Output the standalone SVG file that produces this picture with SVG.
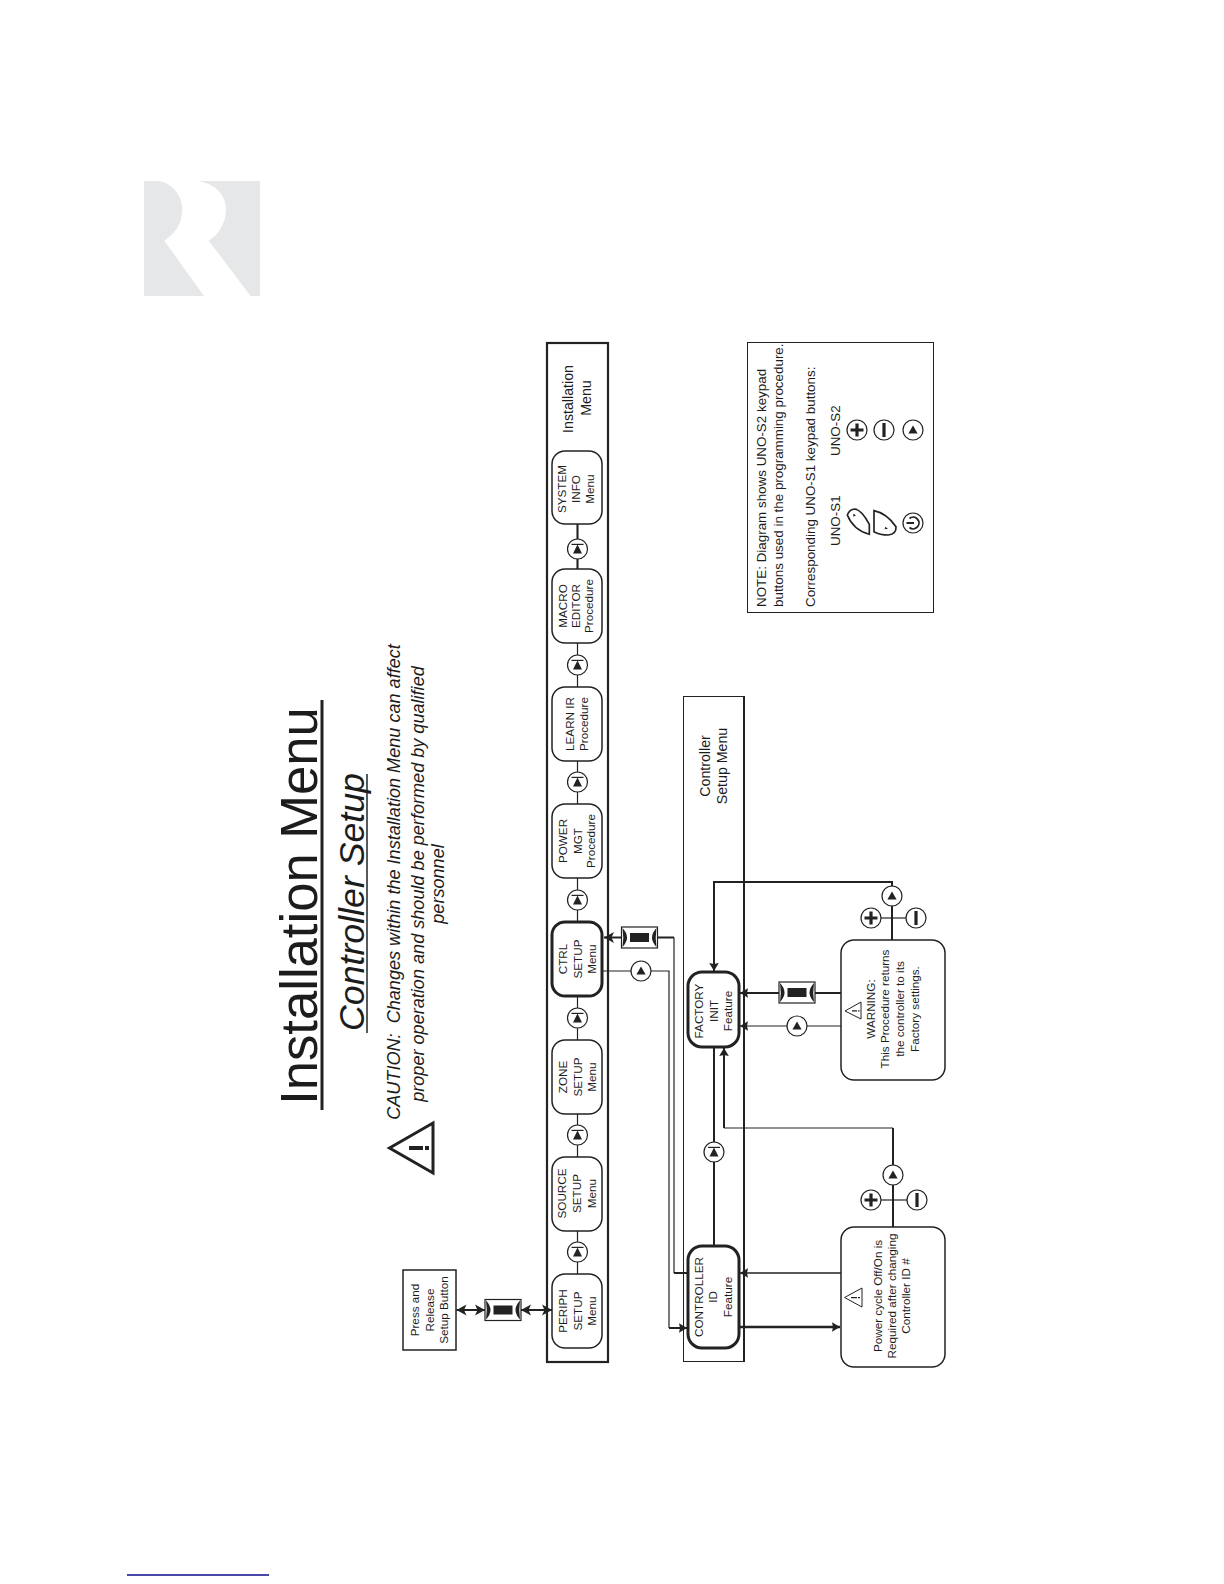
<svg xmlns="http://www.w3.org/2000/svg" width="1224" height="1584" viewBox="0 0 1224 1584">
<style>
text{font-family:"Liberation Sans",Arial,sans-serif;fill:#1c1c1c;text-anchor:middle;white-space:pre}
.n{font-size:11.7px}
.m{font-size:14.2px}
.s{text-anchor:start;font-size:13.4px}
.c{font-size:18.1px;font-style:italic}
.box{fill:#fff;stroke:#222;stroke-width:1.5}
.hv{fill:#fff;stroke:#222;stroke-width:3}
.th{fill:none;stroke:#222;stroke-width:1.2}
.md{fill:none;stroke:#222;stroke-width:2}
.bk{fill:#222;stroke:none}
.bw{fill:#fff;stroke:#222;stroke-width:1.2}
</style>
<defs>
<marker id="ah" markerUnits="userSpaceOnUse" markerWidth="12" markerHeight="12" viewBox="-10 -6 11 12" refX="0" refY="0" orient="auto-start-reverse"><path d="M0,0L-8,-4.800L-7,0L-8,4.800Z" fill="#222"/></marker>
<marker id="ad" markerUnits="userSpaceOnUse" markerWidth="12" markerHeight="12" viewBox="-10 -6 11 12" refX="0" refY="0" orient="auto-start-reverse"><path d="M0,0L-10,-5.500L-7.500,0L-10,5.500Z" fill="#222"/></marker>
<g id="b-next"><circle class="bw" r="10"/><path class="bk" d="M0,-4.500L4.500,4.500L-4.500,4.500Z"/><path class="bk" d="M-6,-5.200H6V-4H-6Z"/></g>
<g id="b-up"><circle class="bw" r="10"/><path class="bk" d="M0,-4.500L4.600,3.500L-4.600,3.500Z"/></g>
<g id="b-plus"><circle class="bw" r="10"/><path class="bk" d="M-1.600,-6.500H1.600V-1.600H6.500V1.600H1.600V6.500H-1.600V1.600H-6.500V-1.600H-1.600Z"/></g>
<g id="b-minus"><circle class="bw" r="10"/><path class="bk" d="M-1.600,-7H1.600V7H-1.600Z"/></g>
<g id="hold"><rect class="bw" x="-18" y="-10.500" width="36" height="21"/><rect class="bk" x="-9.500" y="-4.500" width="19" height="9"/><path class="bk" d="M-17,-9.500Q-8,0-17,9.500Q-15.500,0-17,-9.500Z"/><path class="bk" d="M17,-9.500Q8,0,17,9.500Q15.500,0,17,-9.500Z"/></g>
</defs>
<rect width="1224" height="1584" fill="#fff"/>

<g id="logo">
<rect x="144" y="181" width="116" height="115" fill="#e6e7e8"/>
<path fill="#fff" d="M158.300,181C173,183 182.300,196.700 182.300,209.300C182.300,225 173.300,235 164.300,240.700L204,296L250.700,296L208.700,240.700C218.300,235 226,223.300 226,209.300C226,196.700 216.700,183 196.700,181Z"/>
</g>

<g id="title">
<text transform="translate(317 906) rotate(-90)" style="font-size:52.6px">Installation Menu</text>
<path d="M322,700V1110" stroke="#222" stroke-width="3" fill="none"/>
<text transform="translate(364 902) rotate(-90)" style="font-size:35.7px;font-style:italic">Controller Setup</text>
<path d="M367,774V1033" stroke="#222" stroke-width="1.500" fill="none"/>
</g>

<g id="caution">
<path d="M389.500,1148L433,1123V1173Z" fill="#fff" stroke="#222" stroke-width="3"/>
<path class="bk" d="M409,1146H423V1150H409ZM425,1146H429V1150H425Z"/>
<text class="c" transform="translate(400 882) rotate(-90)">CAUTION:  Changes within the Installation Menu can affect</text>
<text class="c" transform="translate(424 884) rotate(-90)">proper operation and should be performed by qualified</text>
<text class="c" transform="translate(444 884) rotate(-90)">personnel</text>
</g>

<g id="press-setup">
<rect x="403" y="1270" width="53" height="80" fill="#fff" stroke="#222" stroke-width="1.500"/>
<text class="n" transform="translate(419 1310) rotate(-90)">Press and</text>
<text class="n" transform="translate(433.500 1310) rotate(-90)">Release</text>
<text class="n" transform="translate(448 1310) rotate(-90)">Setup Button</text>
</g>

<g id="installation-menu">
<rect x="547" y="343" width="61" height="1019" fill="#fff" stroke="#222" stroke-width="2.200"/>
<text class="m" transform="translate(573 399) rotate(-90)">Installation</text>
<text class="m" transform="translate(591 398) rotate(-90)">Menu</text>
</g>

<g id="controller-setup-menu">
<rect x="683.500" y="696.500" width="60" height="665" fill="#fff" stroke="#222" stroke-width="1"/>
<path d="M744,696V1362" stroke="#222" stroke-width="2" fill="none"/>
<text class="m" transform="translate(710 766) rotate(-90)">Controller</text>
<text class="m" transform="translate(727 766) rotate(-90)">Setup Menu</text>
</g>

<g id="connectors">
<path class="th" d="M577.500,524V1274"/>
<path class="md" d="M577.500,524V569"/>
<path class="md" d="M456.500,1310H485" marker-start="url(#ad)" marker-end="url(#ad)"/>
<path class="md" d="M521,1310H552" marker-start="url(#ad)" marker-end="url(#ad)"/>
<path class="md" d="M604,937.500H674" marker-start="url(#ad)"/>
<path class="th" d="M674,937.500V1273"/>
<path class="md" d="M674,1273H688"/>
<path class="th" d="M603,971H669V1328"/>
<path class="md" d="M669,1328H687" marker-end="url(#ah)"/>
<path class="md" d="M714,1047V1246"/>
<path class="md" d="M724,1128V1048" marker-end="url(#ah)"/>
<path class="th" d="M724,1128H893"/>
<path class="md" d="M893,1128V1227"/>
<path class="th" d="M881,1200H907"/>
<path class="md" d="M892,940V882H714V971" marker-end="url(#ah)"/>
<path class="th" d="M881,918H906"/>
<path class="md" d="M841,993H740" marker-end="url(#ah)"/>
<path class="th" d="M841,1026H740" marker-end="url(#ah)"/>
<path style="fill:none;stroke:#222;stroke-width:1.400" d="M841,1273H740" marker-end="url(#ah)"/>
<path style="fill:none;stroke:#222;stroke-width:2.400" d="M739,1327H840" marker-end="url(#ah)"/>
<use href="#hold" x="503" y="1310"/>
<use href="#hold" x="639.500" y="937.500"/>
<use href="#hold" x="797" y="992.500"/>
<use href="#b-next" x="577.500" y="549"/>
<use href="#b-next" x="577.500" y="665"/>
<use href="#b-next" x="577.500" y="782"/>
<use href="#b-next" x="577.500" y="900"/>
<use href="#b-next" x="577.500" y="1018"/>
<use href="#b-next" x="577.500" y="1135"/>
<use href="#b-next" x="577.500" y="1252"/>
<use href="#b-up" x="641" y="971"/>
<use href="#b-next" x="714" y="1152"/>
<use href="#b-up" x="797" y="1026"/>
<use href="#b-up" x="893" y="1175"/>
<use href="#b-plus" x="871" y="1200"/>
<use href="#b-minus" x="917" y="1200"/>
<use href="#b-up" x="892" y="896"/>
<use href="#b-plus" x="871" y="918"/>
<use href="#b-minus" x="916" y="918"/>
</g>

<g id="system-info"><rect class="box" x="552" y="451" width="50" height="73" rx="13"/>
<text class="n" transform="translate(566 489) rotate(-90)">SYSTEM</text><text class="n" transform="translate(580 489) rotate(-90)">INFO</text><text class="n" transform="translate(594 489) rotate(-90)">Menu</text></g>
<g id="macro-editor"><rect class="box" x="552" y="569" width="50" height="74" rx="13"/>
<text class="n" transform="translate(567 606) rotate(-90)">MACRO</text><text class="n" transform="translate(580 606) rotate(-90)">EDITOR</text><text class="n" transform="translate(593 606) rotate(-90)">Procedure</text></g>
<g id="learn-ir"><rect class="box" x="552" y="687" width="50" height="74" rx="13"/>
<text class="n" transform="translate(574 724) rotate(-90)">LEARN IR</text><text class="n" transform="translate(588 724) rotate(-90)">Procedure</text></g>
<g id="power-mgt"><rect class="box" x="552" y="804" width="50" height="74" rx="13"/>
<text class="n" transform="translate(567 841) rotate(-90)">POWER</text><text class="n" transform="translate(582 841) rotate(-90)">MGT</text><text class="n" transform="translate(595 841) rotate(-90)">Procedure</text></g>
<g id="ctrl-setup"><rect class="hv" x="552" y="922" width="50" height="74" rx="13"/>
<text class="n" transform="translate(567 959) rotate(-90)">CTRL</text><text class="n" transform="translate(582 959) rotate(-90)">SETUP</text><text class="n" transform="translate(596 959) rotate(-90)">Menu</text></g>
<g id="zone-setup"><rect class="box" x="552" y="1040" width="50" height="74" rx="13"/>
<text class="n" transform="translate(567 1077) rotate(-90)">ZONE</text><text class="n" transform="translate(582 1077) rotate(-90)">SETUP</text><text class="n" transform="translate(596 1077) rotate(-90)">Menu</text></g>
<g id="source-setup"><rect class="box" x="552" y="1157" width="50" height="74" rx="13"/>
<text class="n" transform="translate(566 1193.500) rotate(-90)">SOURCE</text><text class="n" transform="translate(581 1193.500) rotate(-90)">SETUP</text><text class="n" transform="translate(596 1193.500) rotate(-90)">Menu</text></g>
<g id="periph-setup"><rect class="box" x="552" y="1274" width="50" height="74" rx="13"/>
<text class="n" transform="translate(567 1311) rotate(-90)">PERIPH</text><text class="n" transform="translate(582 1311) rotate(-90)">SETUP</text><text class="n" transform="translate(596 1311) rotate(-90)">Menu</text></g>

<g id="factory-init"><rect class="hv" x="688" y="972" width="51" height="75" rx="14"/>
<text class="n" transform="translate(703 1011) rotate(-90)">FACTORY</text><text class="n" transform="translate(718 1011) rotate(-90)">INIT</text><text class="n" transform="translate(732 1011) rotate(-90)">Feature</text></g>
<g id="controller-id"><rect class="hv" x="688" y="1246" width="51" height="102" rx="14"/>
<text class="n" transform="translate(703 1297) rotate(-90)">CONTROLLER</text><text class="n" transform="translate(717 1297) rotate(-90)">ID</text><text class="n" transform="translate(732 1297) rotate(-90)">Feature</text></g>

<g id="warning"><rect class="box" x="841" y="940" width="104" height="140" rx="13"/>
<path d="M845,1011L861,1002V1019Z" fill="none" stroke="#222" stroke-width="1"/><path class="bk" d="M852,1010.300H857V1011.500H852ZM858,1010.300H859.500V1011.500H858Z"/>
<text class="n" transform="translate(875 1009) rotate(-90)">WARNING:</text>
<text class="n" transform="translate(889 1009) rotate(-90)">This Procedure returns</text>
<text class="n" transform="translate(904 1009) rotate(-90)">the controller to its</text>
<text class="n" transform="translate(919 1009) rotate(-90)">Factory settings.</text></g>

<g id="power-cycle"><rect class="box" x="841" y="1227" width="104" height="140" rx="13"/>
<path d="M844.500,1297.500L862,1288V1307Z" fill="none" stroke="#222" stroke-width="1"/><path class="bk" d="M851,1297H857V1298.200H851ZM858,1297H860V1298.200H858Z"/>
<text class="n" transform="translate(882 1296) rotate(-90)">Power cycle Off/On is</text>
<text class="n" transform="translate(896 1296) rotate(-90)">Required after changing</text>
<text class="n" transform="translate(910 1296) rotate(-90)">Controller ID #</text></g>

<g id="note">
<rect x="747.500" y="342.500" width="186" height="270" fill="#fff" stroke="#222" stroke-width="1"/>
<text class="s" transform="translate(766 607) rotate(-90)">NOTE: Diagram shows UNO-S2 keypad</text>
<text class="s" transform="translate(783 607) rotate(-90)">buttons used in the programming procedure.</text>
<text class="s" transform="translate(815 607) rotate(-90)">Corresponding UNO-S1 keypad buttons:</text>
<text class="s" transform="translate(840 546) rotate(-90)">UNO-S1</text>
<text class="s" transform="translate(840 456) rotate(-90)">UNO-S2</text>
<use href="#b-plus" x="857" y="430"/>
<use href="#b-minus" x="884" y="430"/>
<use href="#b-up" x="913" y="430"/>
<g transform="translate(740 335) scale(.3333)" fill="none" stroke="#222" stroke-width="5">
<path d="M322,540Q328,523 345,522Q365,525 388,568V598Q340,585 322,540Z"/>
<path d="M402,527Q440,535 468,575Q470,597 445,600Q420,600 402,590Z"/>
<path d="M340,536l8,5l-8,4Z" fill="#222" stroke="none"/>
<path d="M436,575l8,6l-10,2Z" fill="#222" stroke="none"/>
</g>
<g transform="translate(913 523)"><circle class="bw" r="10"/><path d="M-3.500,-4.500A5.800,5.800 0 1 1 -3.500,4.500" fill="none" stroke="#222" stroke-width="1.800"/><path d="M-6.500,0H1" stroke="#222" stroke-width="2"/></g>
</g>

<path id="page-rule" d="M127,1575H269" stroke="#0b0b8c" stroke-width="1.500" fill="none"/>
</svg>
